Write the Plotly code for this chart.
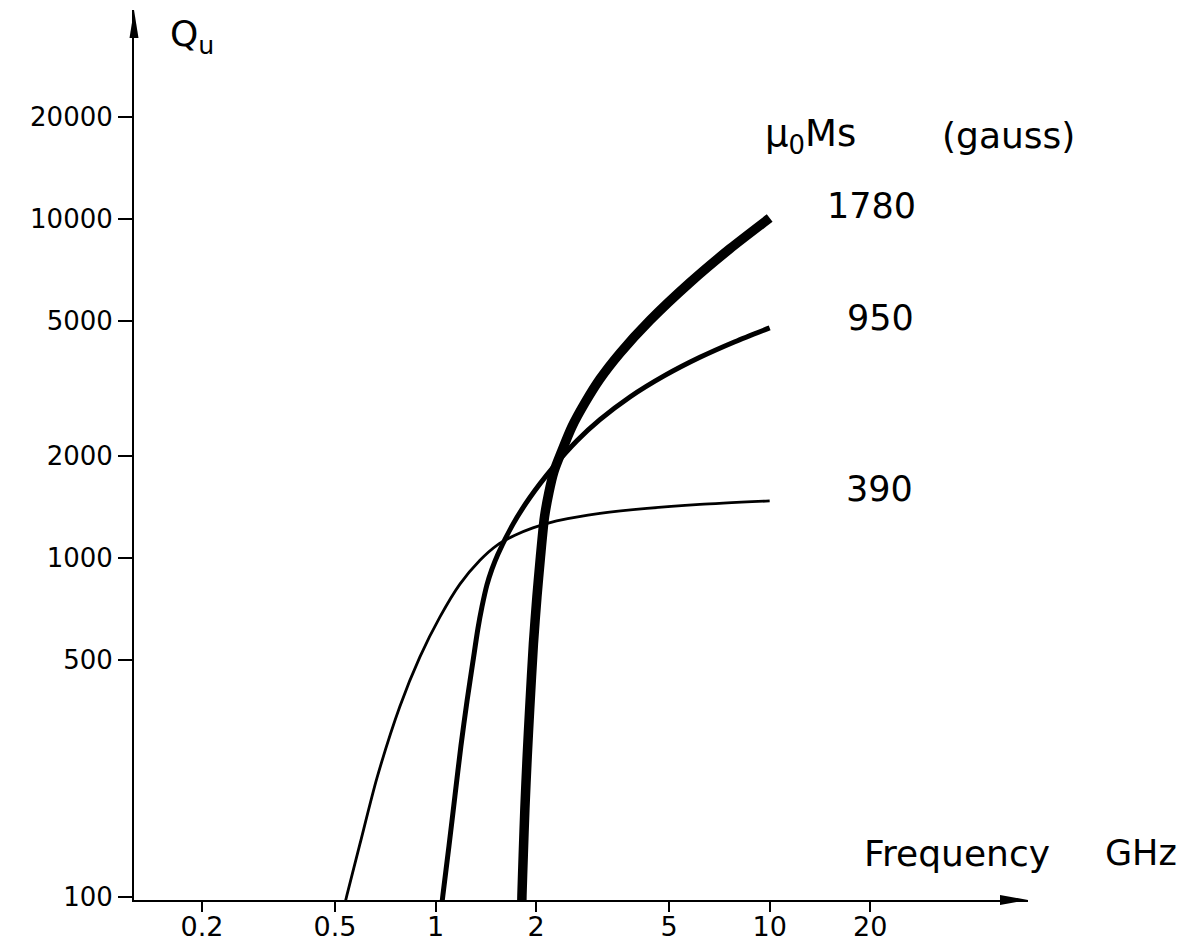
import math
import plotly.graph_objects as go

# ---------------- data ----------------
ms_labels = ["1780", "950", "390"]          # mu0*Ms in gauss

freq_1780 = [1.81, 1.814, 1.830, 1.851, 1.881, 1.913, 1.963, 2.011, 2.060, 2.118,
             2.184, 2.261, 2.389, 2.559, 2.799, 3.104, 3.563, 4.381, 5.771, 7.602, 10.0]
q_1780 = [90, 101, 132, 182, 260, 357, 557, 766, 1003, 1315,
          1557, 1795, 2068, 2432, 2861, 3365, 4011, 5013, 6480, 8155, 10050]

freq_950 = [1.038, 1.052, 1.097, 1.143, 1.191, 1.242, 1.294, 1.339, 1.377, 1.425,
            1.475, 1.537, 1.704, 1.916, 2.245, 2.649, 3.104, 3.817, 4.858, 6.182,
            7.868, 10.0]
q_950 = [90, 101, 141, 198, 278, 377, 494, 617, 716, 831,
         925, 1024, 1254, 1505, 1844, 2213, 2554, 2980, 3450, 3902,
         4338, 4766]

freq_390 = [0.528, 0.543, 0.594, 0.668, 0.782, 0.898, 1.031, 1.183, 1.358, 1.526,
            1.728, 1.956, 2.245, 2.613, 3.104, 4.291, 6.182, 10.0]
q_390 = [90, 101, 143, 224, 364, 510, 669, 836, 983, 1088,
         1165, 1225, 1276, 1315, 1351, 1398, 1436, 1471]

x_tick_vals = [0.2, 0.5, 1, 2, 5, 10, 20]
x_tick_text = ["0.2", "0.5", "1", "2", "5", "10", "20"]
y_tick_vals = [100, 500, 1000, 2000, 5000, 10000, 20000]
y_tick_text = ["100", "500", "1000", "2000", "5000", "10000", "20000"]

x_title = ["Frequency", "GHz"]
y_title = "Q<sub>u</sub>"
legend_title = ["\u03bc<sub>0</sub>Ms", "(gauss)"]

# ---------------- layout geometry ----------------
W, H = 1184, 945
PL, PR, PT, PB = 134, 1028, 10, 900
FONT = "DejaVu Sans"


def px_x(px):
    return (px - PL) / (PR - PL)


def px_y(py):
    return (PB - py) / (PB - PT)


series = [
    (freq_1780, q_1780, 9.5, ms_labels[0], 55, 12),
    (freq_950, q_950, 5.0, ms_labels[1], 75, 10),
    (freq_390, q_390, 2.8, ms_labels[2], 74, 12),
]

fig = go.Figure()
annotations = []
for fx, qy, w, lab, xs, ys in series:
    fig.add_trace(go.Scatter(
        x=fx, y=qy, mode="lines",
        line=dict(color="black", width=w, shape="spline", smoothing=0.7),
        showlegend=False, hoverinfo="skip",
    ))
    annotations.append(dict(
        x=math.log10(fx[-1]), y=math.log10(qy[-1]), xref="x", yref="y",
        text=lab, showarrow=False, xanchor="left", yanchor="middle",
        xshift=xs, yshift=ys, font=dict(family=FONT, size=35, color="black"),
    ))

annotations += [
    dict(x=px_x(168), y=px_y(36), xref="paper", yref="paper", text=y_title,
         showarrow=False, xanchor="left", yanchor="middle",
         font=dict(family=FONT, size=36, color="black")),
    dict(x=px_x(763), y=px_y(136), xref="paper", yref="paper", text=legend_title[0],
         showarrow=False, xanchor="left", yanchor="middle",
         font=dict(family=FONT, size=37, color="black")),
    dict(x=px_x(1008), y=px_y(136), xref="paper", yref="paper", text=legend_title[1],
         showarrow=False, xanchor="center", yanchor="middle",
         font=dict(family=FONT, size=36, color="black")),
    dict(x=px_x(862), y=px_y(853), xref="paper", yref="paper", text=x_title[0],
         showarrow=False, xanchor="left", yanchor="middle",
         font=dict(family=FONT, size=36, color="black")),
    dict(x=px_x(1103), y=px_y(853), xref="paper", yref="paper", text=x_title[1],
         showarrow=False, xanchor="left", yanchor="middle",
         font=dict(family=FONT, size=35, color="black")),
]

shapes = [
    # arrowhead on top of the y axis
    dict(type="path", xref="paper", yref="paper", xsizemode="pixel", ysizemode="pixel",
         xanchor=0, yanchor=1, path="M -4.5 -28 L 0 0 L 4.5 -28 Z",
         fillcolor="black", line=dict(width=0)),
    # arrowhead at the right end of the x axis
    dict(type="path", xref="paper", yref="paper", xsizemode="pixel", ysizemode="pixel",
         xanchor=1, yanchor=0, path="M -28 -5 L 0 0 L -28 5 Z",
         fillcolor="black", line=dict(width=0)),
]

fig.update_layout(
    width=W, height=H,
    margin=dict(l=PL, r=W - PR, t=PT, b=H - PB, pad=0, autoexpand=False),
    paper_bgcolor="white", plot_bgcolor="white",
    annotations=annotations, shapes=shapes,
    xaxis=dict(
        type="log", range=[math.log10(0.1252), math.log10(59.3)],
        tickmode="array", tickvals=x_tick_vals, ticktext=x_tick_text,
        ticks="outside", ticklen=10, tickwidth=2, tickcolor="black",
        ticklabelstandoff=-8,
        showline=True, linecolor="black", linewidth=2,
        showgrid=False, zeroline=False,
        tickfont=dict(family=FONT, size=27, color="black"),
    ),
    yaxis=dict(
        type="log", range=[1.99, 4.616],
        tickmode="array", tickvals=y_tick_vals, ticktext=y_tick_text,
        ticks="outside", ticklen=14, tickwidth=2, tickcolor="black",
        showline=True, linecolor="black", linewidth=2,
        showgrid=False, zeroline=False,
        tickfont=dict(family=FONT, size=26, color="black"),
    ),
)

fig.write_html("out.html")
